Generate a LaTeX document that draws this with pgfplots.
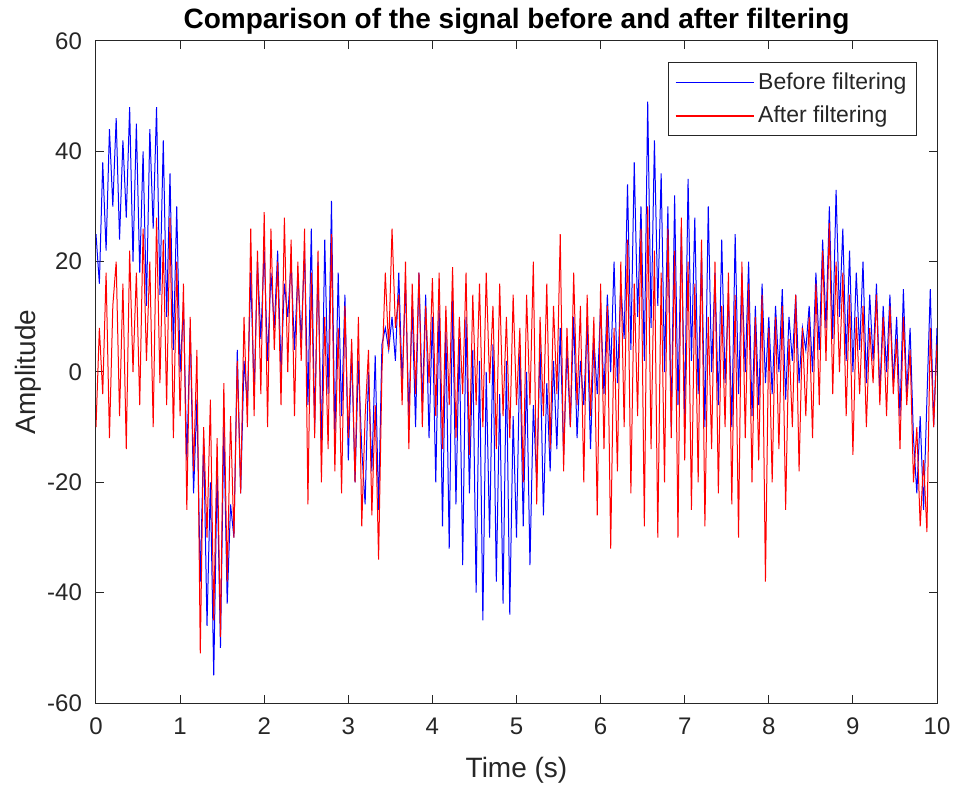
\documentclass[border=0pt]{standalone}
\usepackage{pgfplots}
\usepackage{pgfplotstable}
\pgfplotsset{compat=1.18}
\usepackage{fontspec}
\setmainfont{Liberation Sans}
\definecolor{axgray}{rgb}{0.15,0.15,0.15}

\pgfplotstableread[row sep=\\]{
y\\
25\\ 16\\ 38\\ 22\\ 44\\ 30\\
46\\ 24\\ 42\\ 28\\ 48\\ 20\\ 45\\
18\\ 40\\ 12\\ 44\\ 26\\ 48\\ 14\\ 42\\
10\\ 36\\ 4\\ 30\\ 0\\
12\\ -16\\ 8\\ -22\\ -5\\
-38\\ -12\\ -46\\ -20\\ -55\\ -18\\ -50\\ -10\\ -42\\ -24\\
-30\\ 4\\ -22\\ 2\\ -6\\
18\\ -4\\ 20\\ 6\\ 22\\
2\\ 18\\ 8\\ 22\\ 0\\ 16\\ 10\\ 20\\ 4\\ 18\\ 6\\ 22\\
-6\\ 26\\ -10\\ 20\\ -14\\ 24\\ -4\\ 31\\ -12\\ 18\\ -8\\ 14\\ -16\\
4\\ -20\\ 2\\ -14\\ -24\\ 0\\ -18\\ 3\\ -25\\ 5\\
8\\ 4\\ 10\\ 2\\ 18\\
-2\\ 16\\ -8\\ 12\\ -10\\ 18\\ -6\\ 14\\ -12\\ 10\\
-20\\ 12\\ -28\\ 8\\ -32\\ 14\\ -24\\ 6\\ -35\\ 10\\ -22\\ 4\\
-40\\ 2\\ -45\\ 0\\ -30\\ 5\\ -38\\ -4\\ -42\\ 2\\ -44\\ -8\\ -30\\
4\\ -28\\ 0\\ -35\\ -6\\ -20\\ 5\\ -26\\ -2\\ -18\\ 2\\ -14\\
8\\ -15\\ 4\\ -10\\ 10\\ -12\\ 2\\ -6\\ 9\\ -14\\ 6\\ -4\\ 12\\
-4\\ 14\\ 0\\ 20\\ -2\\ 16\\ 6\\
34\\ 4\\ 38\\ 10\\ 30\\ 2\\ 49\\ 8\\ 42\\ 12\\ 36\\ 0\\ 30\\
-10\\ 32\\ -6\\ 26\\ -8\\ 35\\ 2\\ 28\\ -4\\ 22\\ -10\\ 30\\ 0\\ 18\\ -6\\ 24\\ -2\\
14\\ -10\\ 25\\ -4\\ 18\\ 0\\ 20\\ -8\\ 12\\ -6\\ 16\\ -2\\ 10\\
-4\\ 12\\ 0\\ 15\\ -5\\ 10\\ 2\\ 14\\ -2\\ 8\\ 4\\ 12\\
0\\ 18\\ 4\\ 24\\ 8\\ 30\\ 6\\ 33\\ 10\\ 26\\
2\\ 22\\ 0\\ 18\\ 4\\ 20\\ -2\\ 14\\ 2\\ 16\\ -4\\ 12\\ 0\\ 14\\ -2\\
10\\ -8\\ 15\\ -4\\ 8\\
-12\\ -22\\ -8\\ -25\\ -5\\
15\\ -10\\ 8\\
}\before

\pgfplotstableread[row sep=\\]{
y\\
-10\\ 8\\ -4\\ 18\\ -12\\ 12\\
20\\ -8\\ 16\\ -14\\ 22\\ 0\\ 18\\
-6\\ 26\\ 2\\ 20\\ -10\\ 28\\ -2\\ 24\\
-6\\ 28\\ -12\\ 20\\ -8\\
16\\ -25\\ 10\\ -18\\ 4\\
-51\\ -10\\ -30\\ -5\\ -45\\ -12\\ -48\\ -2\\ -38\\ -8\\
-30\\ 2\\ -22\\ 10\\ -10\\
26\\ -8\\ 22\\ -4\\ 29\\
-10\\ 26\\ 4\\ 20\\ -6\\ 28\\ 0\\ 24\\ -8\\ 20\\ 2\\ 26\\
-24\\ 18\\ -12\\ 22\\ -20\\ 10\\ -14\\ 25\\ -18\\ 8\\ -22\\ 12\\ -12\\
6\\ -20\\ 10\\ -28\\ -8\\ 4\\ -26\\ -6\\ -34\\ 0\\
18\\ 4\\ 26\\ 8\\ 14\\
-6\\ 20\\ -14\\ 16\\ -4\\ 18\\ -10\\ 12\\ -2\\ 17\\
-8\\ 18\\ -14\\ 12\\ -6\\ 19\\ -12\\ 10\\ -4\\ 18\\ -15\\ 14\\
-6\\ 16\\ -10\\ 18\\ -2\\ 12\\ -14\\ 16\\ -8\\ 10\\ -12\\ 14\\ -6\\
8\\ -20\\ 14\\ -6\\ 20\\ -24\\ 10\\ -8\\ 16\\ -14\\ 12\\ -4\\
25\\ -18\\ 8\\ -10\\ 18\\ -6\\ 12\\ -20\\ 14\\ -8\\ 10\\ -26\\ 16\\
-14\\ 12\\ -32\\ 8\\ -18\\ 20\\ -10\\
24\\ -22\\ 16\\ -8\\ 26\\ -28\\ 30\\ -14\\ 22\\ -30\\ 18\\ -20\\ 26\\
-12\\ 22\\ -30\\ 28\\ -16\\ 20\\ -25\\ 16\\ -20\\ 24\\ -28\\ 10\\ -14\\ 20\\ -22\\ 12\\ -10\\
18\\ -24\\ 14\\ -30\\ 20\\ -12\\ 16\\ -20\\ 10\\ -16\\ 14\\ -38\\ 8\\
-20\\ 10\\ -14\\ 12\\ -25\\ 6\\ -10\\ 14\\ -18\\ 8\\ -8\\ 10\\
-12\\ 16\\ -6\\ 22\\ 2\\ 27\\ -4\\ 20\\ 0\\ 18\\
-8\\ 14\\ -15\\ 10\\ -4\\ 12\\ -10\\ 8\\ -2\\ 14\\ -6\\ 10\\ -8\\ 12\\ -4\\
6\\ -14\\ 10\\ -6\\ 4\\
-20\\ -10\\ -28\\ -16\\ -29\\
8\\ -10\\ 5\\
}\after

\begin{document}
\begin{tikzpicture}
\begin{axis}[
  name=ax,
  scale only axis,
  width=420.5pt, height=331pt,
  xmin=0, xmax=10, ymin=-60, ymax=60,
  xtick={0,1,...,10}, ytick={-60,-40,...,60},
  tick align=inside, tick pos=both,
  major tick length=4pt,
  axis line style={axgray, line width=0.5pt},
  every tick/.style={axgray, line width=0.5pt},
  ticklabel style={font=\fontsize{12}{14}\selectfont, text=axgray},
  xticklabel style={yshift=-4pt},
  yticklabel style={xshift=-3.5pt},
  /pgf/number format/assume math mode=true,
  xlabel={Time (s)}, ylabel={Amplitude},
  label style={font=\fontsize{14}{16}\selectfont, text=axgray},
  xlabel style={at={(axis description cs:0.5,-0.1118)}, anchor=base},
  ylabel style={at={(axis description cs:-0.0725,0.5)}, anchor=base},
  every axis title shift=0pt,
  title={\bfseries Comparison of the signal before and after filtering},
  title style={font=\fontsize{14}{16}\selectfont, at={(axis description cs:0.5,1.0196)}, anchor=base},
  legend style={at={(rel axis cs:1,1)}, xshift=-10pt, yshift=-10.5pt, anchor=north east,
    draw=axgray, line width=0.5pt, font=\fontsize{11.5}{13.5}\selectfont, text=axgray,
    inner xsep=3pt, inner ysep=3pt, row sep=3pt},
  legend cell align=left,
  legend image code/.code={\draw[#1, line width=0.7pt] (0pt,0pt) -- (39pt,0pt);},
]
\addplot[blue, line width=0.5pt] table[x expr=\coordindex*0.04, y index=0] {\before};
\addlegendentry{Before filtering}
\addplot[red, line width=0.5pt] table[x expr=\coordindex*0.04, y index=0] {\after};
\addlegendentry{After filtering}
\end{axis}
\pgfresetboundingbox
\path[use as bounding box] ([shift={(-48pt,-41pt)}]ax.south west) rectangle ([shift={(9pt,20.5pt)}]ax.north east);
\end{tikzpicture}
\end{document}
